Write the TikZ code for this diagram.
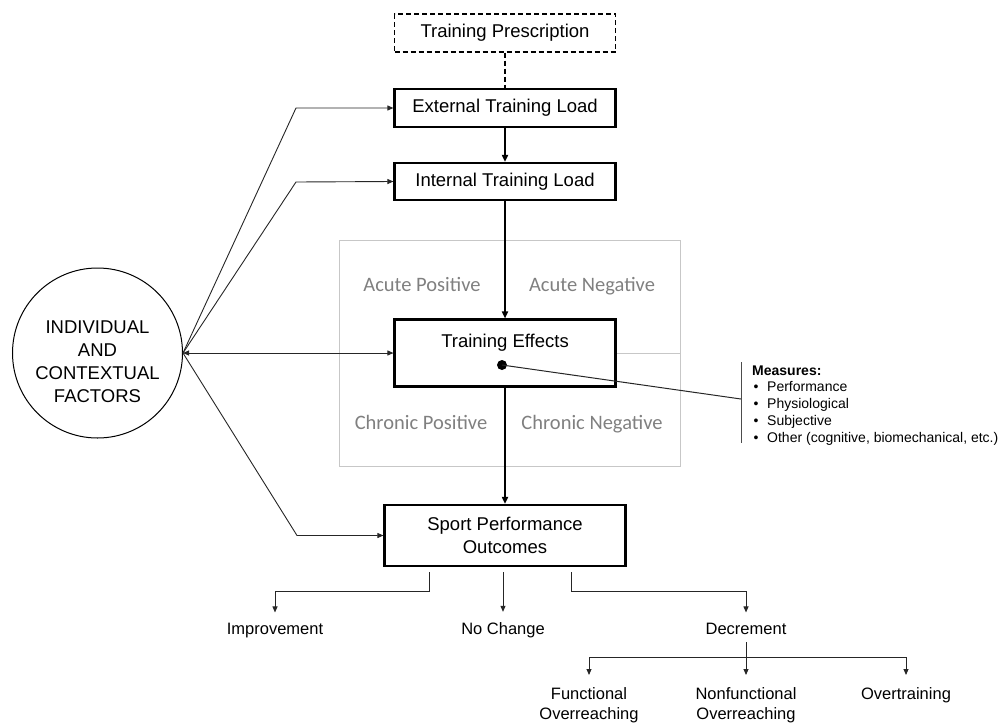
\documentclass[tikz,border=0pt]{standalone}
\usepackage{fontspec}
\setmainfont{Liberation Sans}
\newfontfamily\calfont{Carlito}
\usetikzlibrary{arrows.meta}
\begin{document}
\begin{tikzpicture}[x=1pt,y=-1pt,
  box/.style={draw,line width=2.2pt,minimum width=221pt,inner sep=0pt,
    font=\fontsize{18.5}{23}\selectfont,align=center},
  dashbox/.style={dash pattern=on 5pt off 3pt},
  conn/.style={line width=0.9pt,draw=black!85,-{Triangle[length=6pt,width=5pt]}},
  mainarrow/.style={line width=1.8pt,-{Triangle[length=7pt,width=6pt]}},
  lbl/.style={font=\fontsize{16.5}{20}\selectfont,inner sep=0pt,align=center},
  greylbl/.style={font=\calfont\fontsize{20.5}{24}\selectfont,text=black!50,inner sep=0pt,anchor=base},
  meas/.style={font=\fontsize{14}{16}\selectfont,inner sep=0pt}]
\useasboundingbox (0,0) rectangle (1004,723);

% grey grid
\draw[black!22,line width=1pt] (339,240) rectangle (680,466);
\draw[black!22,line width=1pt] (339,353) -- (680,353);
\draw[black!22,line width=1pt] (505,240) -- (505,466);
\node[greylbl] (ap) at (422,291.5) {Acute Positive};
\node[greylbl] (an) at (592,291.5) {Acute Negative};
\node[greylbl] (cp) at (421,429.5) {Chronic Positive};
\node[greylbl] (cn) at (592,429.5) {Chronic Negative};

% boxes
\node[box,dashbox,line width=1.3pt,minimum height=38pt] (tp) at (505,33) {Training Prescription};
\node[box,minimum height=38pt] (ext) at (505,108) {External Training Load};
\node[box,minimum height=37pt] (int) at (505,181.5) {Internal Training Load};
\node[box,fill=white,minimum height=67pt] (te) at (505,353) {};
\node[inner sep=0pt,anchor=base,font=\fontsize{18.5}{23}\selectfont] (tet) at (505,347) {Training Effects};
\node[circle,fill,inner sep=0pt,minimum size=10pt] (dot) at (502,365) {};
\node[box,minimum width=241pt,minimum height=61pt] (sp) at (505,535.5) {Sport Performance\\Outcomes};

% circle
\node[circle,draw,line width=1pt,minimum size=170pt,inner sep=0pt] (ind) at (97.5,353) {};
\node[align=center,inner sep=0pt,font=\fontsize{18.5}{23}\selectfont] (indt) at (97.5,362) {INDIVIDUAL\\AND\\CONTEXTUAL\\FACTORS};

% main vertical arrows
\draw[dashbox,line width=1.3pt] (tp) -- (ext);
\draw[mainarrow] (ext) -- (int);
\draw[mainarrow] (int) -- (te);
\draw[mainarrow] (te) -- (sp);

% connectors from circle
\coordinate (k1) at (296,108);
\coordinate (k2) at (296,182);
\coordinate (k3) at (297,535.5);
\draw[conn] (ind.east) -- (k1) -- (ext.west);
\draw[conn] (ind.east) -- (k2) -- (int.west);
\draw[conn,{Triangle[length=6pt,width=5pt]}-{Triangle[length=6pt,width=5pt]}] (ind.east) -- (te.west);
\draw[conn] (ind.east) -- (k3) -- (sp.west);

% measures
\coordinate (mb) at (741,399);
\draw[line width=1pt,black!85] (dot.center) -- (mb);
\draw[line width=1pt,black!70] (741,362) -- (741,443);
\node[meas,anchor=base west,font=\bfseries\fontsize{14}{16}\selectfont] (mt) at (752,375) {Measures:};
\foreach \t [count=\i] in {Performance,Physiological,Subjective,{Other (cognitive, biomechanical, etc.)}}{
  \node[meas,anchor=base] (mbul\i) at (756,374+17*\i) {•};
  \node[meas,anchor=base west] (mtxt\i) at (767,374+17*\i) {\t};
}

% outcomes
\node[lbl,anchor=base] (imp) at (275,634) {Improvement};
\node[lbl,anchor=base] (noc) at (503,634) {No Change};
\node[lbl,anchor=base] (dec) at (746,634) {Decrement};
\coordinate (b1) at (429,572);
\coordinate (b2) at (503,572);
\coordinate (b3) at (571,572);
\draw[conn] (b1) -- (429,591) -| ([yshift=10pt]imp.north);
\draw[conn] (b2) -- ([yshift=10pt]noc.north);
\draw[conn] (b3) -- (571,591) -| ([yshift=10pt]dec.north);

\node[lbl,anchor=north] (fo) at (589,687) {Functional\\Overreaching};
\node[lbl,anchor=north] (nfo) at (746,687) {Nonfunctional\\Overreaching};
\node[lbl,anchor=north] (ot) at (906,687) {Overtraining};
\coordinate (d1) at (746,657);
\draw[line width=0.9pt,black!85] ([yshift=-8pt]dec.south) -- (d1);
\draw[conn] (d1) -- ([yshift=12pt]nfo.north);
\draw[conn] (d1) -| ([yshift=12pt]fo.north);
\draw[conn] (d1) -| ([yshift=12pt]ot.north);
\end{tikzpicture}
\end{document}
